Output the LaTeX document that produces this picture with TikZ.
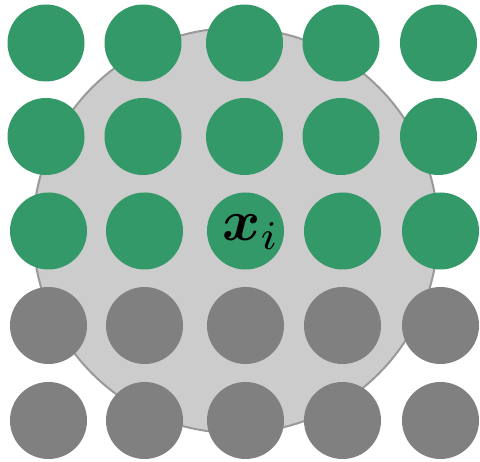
\documentclass[tikz,border=0pt]{standalone}
\usepackage{amsmath,bm}
\begin{document}
\begin{tikzpicture}[x=1pt,y=-1pt,
  dot/.style={circle, inner sep=0pt, minimum size=77pt, draw=none},
  greendot/.style={dot, fill=dotgreen},
  graydot/.style={dot, fill=dotgray},
  region/.style={circle, inner sep=0pt, minimum size=405pt, fill=regionfill, draw=regionedge, line width=2pt}]
\definecolor{dotgreen}{RGB}{52,153,104}
\definecolor{dotgray}{RGB}{128,128,128}
\definecolor{regionfill}{RGB}{204,204,204}
\definecolor{regionedge}{RGB}{153,153,153}
\useasboundingbox (0,0) rectangle (480,462);
\node[region] (nbhd) at (235.5,230.5) {};
% row 1
\node[greendot] (r1c1) at (46,43) {};
\node[greendot] (r1c2) at (143,43) {};
\node[greendot] (r1c3) at (244.5,43) {};
\node[greendot] (r1c4) at (341,43) {};
\node[greendot] (r1c5) at (438.5,43) {};
% row 2
\node[greendot] (r2c1) at (46,136.5) {};
\node[greendot] (r2c2) at (143,136.5) {};
\node[greendot] (r2c3) at (244.5,136.5) {};
\node[greendot] (r2c4) at (341,136.5) {};
\node[greendot] (r2c5) at (438.5,136.5) {};
% row 3
\node[greendot] (r3c1) at (48.5,231) {};
\node[greendot] (r3c2) at (144.5,231) {};
\node[greendot] (r3c3) at (245.5,231) {};
\node[greendot] (r3c4) at (342.5,231) {};
\node[greendot] (r3c5) at (440.5,231) {};
% row 4
\node[graydot] (r4c1) at (48.5,325.5) {};
\node[graydot] (r4c2) at (144.5,325.5) {};
\node[graydot] (r4c3) at (245.5,325.5) {};
\node[graydot] (r4c4) at (342.5,325.5) {};
\node[graydot] (r4c5) at (440.5,325.5) {};
% row 5
\node[graydot] (r5c1) at (48.5,420.5) {};
\node[graydot] (r5c2) at (144.5,420.5) {};
\node[graydot] (r5c3) at (245.5,420.5) {};
\node[graydot] (r5c4) at (342.5,420.5) {};
\node[graydot] (r5c5) at (440.5,420.5) {};
\node[inner sep=0pt] (xi) at (251,232) {\scalebox{5.8}{$\bm{x}_i$}};
\end{tikzpicture}
\end{document}
